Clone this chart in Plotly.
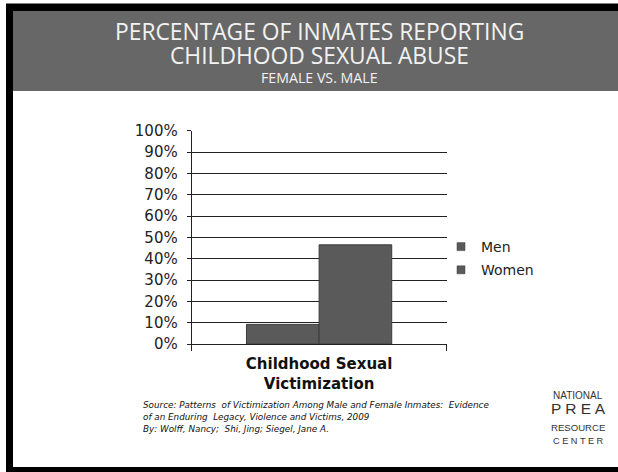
import plotly.graph_objects as go

W, H = 618, 472

categories = ["Childhood Sexual<br>Victimization"]
series_names = ["Men", "Women"]
men_values = [0.092]
women_values = [0.465]
y_tick_values = [0, 0.1, 0.2, 0.3, 0.4, 0.5, 0.6, 0.7, 0.8, 0.9, 1.0]
y_tick_labels = ["0%", "10%", "20%", "30%", "40%", "50%", "60%", "70%", "80%", "90%", "100%"]

title_line1 = "PERCENTAGE OF INMATES REPORTING"
title_line2 = "CHILDHOOD SEXUAL ABUSE"
subtitle = "FEMALE VS. MALE"
source_lines = [
    "Source: Patterns  of Victimization Among Male and Female Inmates:  Evidence",
    "of an Enduring  Legacy, Violence and Victims, 2009",
    "By: Wolff, Nancy;  Shi, Jing; Siegel, Jane A.",
]
logo_lines = ["NATIONAL", "P R E A", "RESOURCE", "C E N T E R"]


def px(x):
    return x / W


def py(y):
    return 1 - y / H


bar_fill = "#5a5a5a"
bar_line = "#3c3c3c"

fig = go.Figure()
values = [men_values, women_values]
for name, vals in zip(series_names, values):
    fig.add_trace(go.Bar(x=categories, y=vals, name=name, showlegend=False,
                         marker=dict(color=bar_fill, line=dict(color=bar_line, width=1))))
# legend entries (small square swatches like the original)
for i, name in enumerate(series_names):
    fig.add_trace(go.Scatter(x=[None], y=[None], mode="markers", name=name,
                             legendgroup=name,
                             marker=dict(symbol="square", size=8, color=bar_fill,
                                         line=dict(color=bar_line, width=0.5))))

shapes = []
# header gray band
shapes.append(dict(type="rect", xref="paper", yref="paper", x0=px(12), x1=px(640),
                   y0=py(91), y1=py(11), fillcolor="#676767", line=dict(width=0), layer="below"))
# black frame: top, left, bottom
shapes.append(dict(type="rect", xref="paper", yref="paper", x0=px(6), x1=px(640),
                   y0=py(11), y1=py(3.5), fillcolor="#000000", line=dict(width=0), layer="below"))
shapes.append(dict(type="rect", xref="paper", yref="paper", x0=px(6), x1=px(13),
                   y0=py(480), y1=py(6), fillcolor="#000000", line=dict(width=0), layer="below"))
shapes.append(dict(type="rect", xref="paper", yref="paper", x0=px(6), x1=px(640),
                   y0=py(480), y1=py(467), fillcolor="#000000", line=dict(width=0), layer="below"))

annotations = []
hdr_font = "Open Sans"
hdr_x = px(319)
annotations.append(dict(text=title_line1, x=hdr_x, y=py(31), xref="paper", yref="paper",
                        showarrow=False, xanchor="center", yanchor="middle",
                        font=dict(family=hdr_font, size=22.8, color="#f2f2f2")))
annotations.append(dict(text=title_line2, x=hdr_x, y=py(55.5), xref="paper", yref="paper",
                        showarrow=False, xanchor="center", yanchor="middle",
                        font=dict(family=hdr_font, size=22.8, color="#f2f2f2")))
annotations.append(dict(text=subtitle, x=hdr_x, y=py(77), xref="paper", yref="paper",
                        showarrow=False, xanchor="center", yanchor="middle",
                        font=dict(family=hdr_font, size=14.2, color="#f2f2f2")))
for i, line in enumerate(source_lines):
    annotations.append(dict(text="<i>" + line + "</i>", x=px(141), y=py(404.5 + i * 12.4),
                            xref="paper", yref="paper", showarrow=False,
                            xanchor="left", yanchor="middle",
                            font=dict(family="DejaVu Sans", size=8.8, color="#111111")))
# logo text
logo_y = [395, 408, 427, 441]
logo_size = [10, 15.5, 9.6, 9.2]
for txt, yy, sz in zip(logo_lines, logo_y, logo_size):
    annotations.append(dict(text=txt, x=px(578), y=py(yy), xref="paper", yref="paper",
                            showarrow=False, xanchor="center", yanchor="middle",
                            font=dict(family="Liberation Sans", size=sz, color="#333333")))

fig.update_layout(
    width=W, height=H,
    margin=dict(l=0, r=0, t=0, b=0, pad=0, autoexpand=False),
    paper_bgcolor="white", plot_bgcolor="rgba(0,0,0,0)",
    barmode="group", bargap=0.43, bargroupgap=0,
    shapes=shapes, annotations=annotations,
    showlegend=True,
    legend=dict(x=px(441), y=py(231), xanchor="left", yanchor="top",
                font=dict(family="DejaVu Sans", size=14, color="#222222"),
                traceorder="grouped", tracegroupgap=2, itemwidth=30, itemsizing="trace",
                bgcolor="rgba(0,0,0,0)"),
    xaxis=dict(domain=[px(191.7), px(446.5)], showline=True, linecolor="#222222", linewidth=1,
               ticks="outside", tickson="boundaries", ticklen=6, tickcolor="#222222",
               ticklabelstandoff=6,
               tickfont=dict(family="DejaVu Sans", size=15, color="#111111", weight="bold"),
               showgrid=False, fixedrange=True),
    yaxis=dict(domain=[py(344), py(130.7)], range=[0, 1], tickvals=y_tick_values,
               ticktext=y_tick_labels, showline=True, linecolor="#222222", linewidth=1,
               showgrid=True, gridcolor="#222222", gridwidth=1,
               ticks="outside", ticklen=4, tickcolor="#222222", ticklabelstandoff=6,
               tickfont=dict(family="DejaVu Sans", size=15, color="#222222"),
               zeroline=False, fixedrange=True),
)

fig.write_html("out.html", config={"displayModeBar": False},
               post_script="document.body.style.margin='0';document.body.style.overflow='hidden';")
